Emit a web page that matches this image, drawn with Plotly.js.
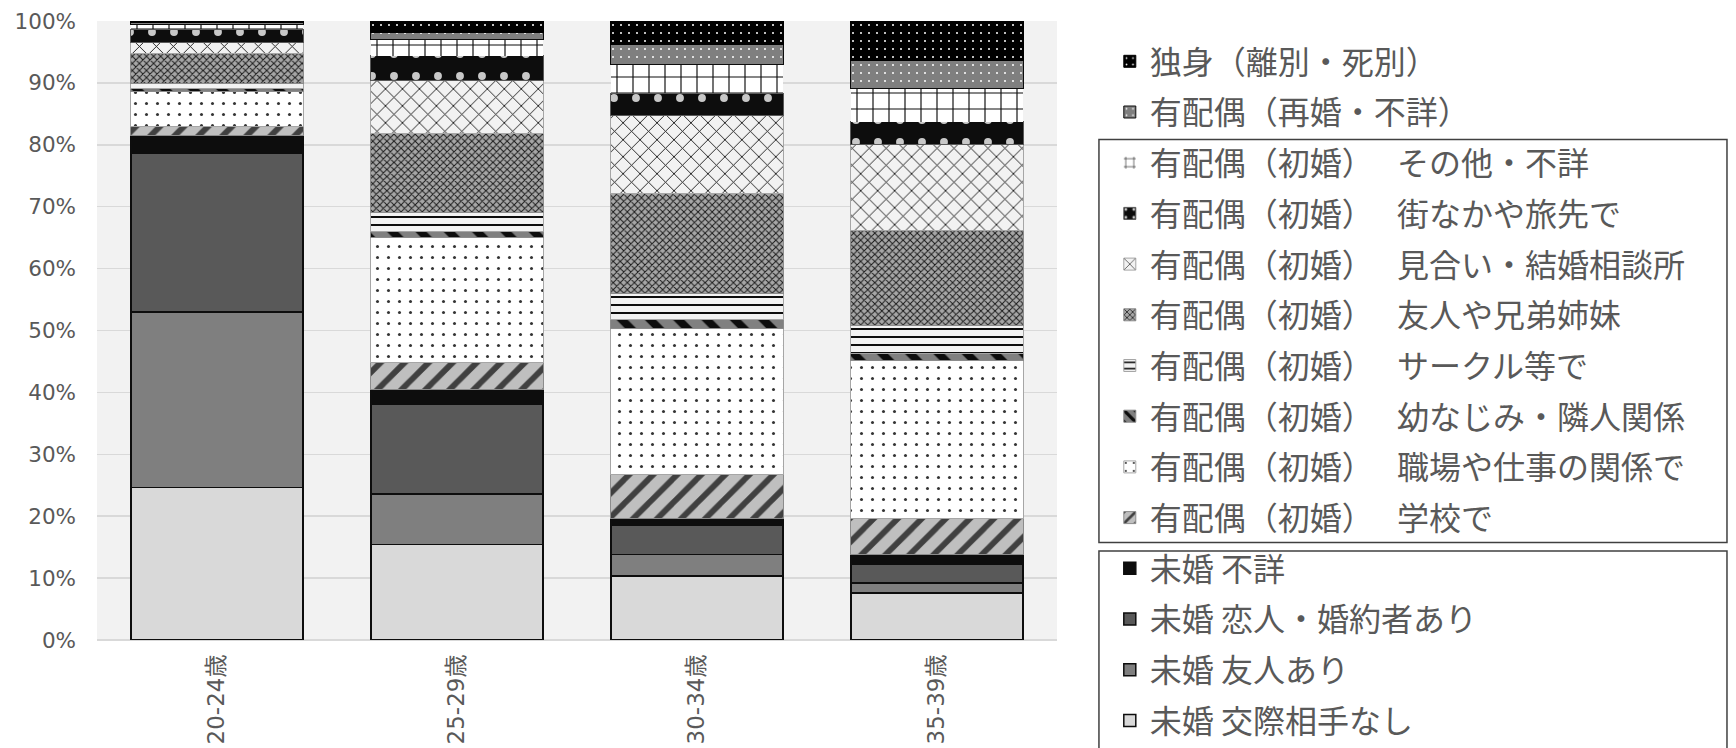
<!DOCTYPE html>
<html>
<head>
<meta charset="utf-8">
<script src="https://cdn.plot.ly/plotly-3.0.1.min.js"></script>
<style>html,body{margin:0;padding:0;background:#fff;}#chart{width:1736px;height:748px;}</style>
</head>
<body>
<div id="chart"></div>
<script>
// ---- data (percent of each age group), bottom to top ----
const categories = ['20-24歳', '25-29歳', '30-34歳', '35-39歳'];

const GAP = '\u00a0\u2002';
const seriesNames = [
  '未婚 交際相手なし',
  '未婚 友人あり',
  '未婚 恋人・婚約者あり',
  '未婚 不詳',
  '有配偶（初婚）' + GAP + '学校で',
  '有配偶（初婚）' + GAP + '職場や仕事の関係で',
  '有配偶（初婚）' + GAP + '幼なじみ・隣人関係',
  '有配偶（初婚）' + GAP + 'サークル等で',
  '有配偶（初婚）' + GAP + '友人や兄弟姉妹',
  '有配偶（初婚）' + GAP + '見合い・結婚相談所',
  '有配偶（初婚）' + GAP + '街なかや旅先で',
  '有配偶（初婚）' + GAP + 'その他・不詳',
  '有配偶（再婚・不詳）',
  '独身（離別・死別）'
];

const mikonNashi     = [24.6, 15.4, 10.3, 7.6];
const mikonYujin     = [28.4, 8.2, 3.5, 1.6];
const mikonKoibito   = [25.6, 14.5, 4.7, 3.0];
const mikonFusho     = [2.9, 2.3, 1.1, 1.6];
const shokonGakko    = [1.5, 4.5, 7.1, 5.8];
const shokonShokuba  = [5.6, 20.2, 23.7, 25.5];
const shokonOsana    = [0.5, 0.9, 1.3, 1.2];
const shokonCircle   = [0.8, 3.0, 4.2, 4.5];
const shokonYujin    = [4.8, 12.9, 16.3, 15.4];
const shokonMiai     = [1.9, 8.5, 12.5, 13.8];
const shokonMachi    = [2.1, 4.0, 3.6, 3.7];
const shokonSonota   = [0.7, 2.6, 4.7, 5.4];
const saikon         = [0.3, 1.1, 3.2, 4.6];
const dokushin       = [0.3, 1.9, 3.8, 6.3];

const seriesValues = [mikonNashi, mikonYujin, mikonKoibito, mikonFusho, shokonGakko,
  shokonShokuba, shokonOsana, shokonCircle, shokonYujin, shokonMiai, shokonMachi,
  shokonSonota, saikon, dokushin];

// ---- styles ----
const styles = [
  {bg:'#d9d9d9', line:'#0d0d0d', lw:1.5},
  {bg:'#7f7f7f', line:'#0d0d0d', lw:1.5},
  {bg:'#595959', line:'#0d0d0d', lw:1.5},
  {bg:'#0d0d0d', line:'#0d0d0d', lw:1.5},
  {bg:'#bfbfbf', line:'#8c8c8c', lw:1, shape:'/', fg:'#404040', size:17, sol:0.35},
  {bg:'#ffffff', line:'#a6a6a6', lw:1, shape:'.', fg:'#333333', size:11, sol:0.06},
  {bg:'#808080', line:'#8c8c8c', lw:1, shape:'\\', fg:'#0d0d0d', size:20, sol:0.4},
  {bg:'#f2f2f2', line:'#a6a6a6', lw:1, shape:'-', fg:'#0d0d0d', size:8, sol:0.25},
  {bg:'#a6a6a6', line:'#8c8c8c', lw:1, shape:'x', fg:'#1a1a1a', size:5, sol:0.35},
  {bg:'#f2f2f2', line:'#a6a6a6', lw:1, shape:'x', fg:'#0d0d0d', size:12, sol:0.14},
  {bg:'#0d0d0d', line:'#595959', lw:1, shape:'.', fg:'#c8c8c8', size:22, sol:0.1},
  {bg:'#ffffff', line:'#ffffff', lw:0, shape:'+', fg:'#0d0d0d', size:16, sol:0.14},
  {bg:'#7f7f7f', line:'#0d0d0d', lw:1, shape:'.', fg:'#ffffff', size:8, sol:0.05},
  {bg:'#000000', line:'#000000', lw:1, shape:'.', fg:'#ffffff', size:8, sol:0.05}
];

const traces = seriesNames.map((name, i) => {
  const s = styles[i];
  const marker = {color: s.bg, line: {color: s.line, width: s.lw}};
  if (s.shape) {
    marker.pattern = {shape: s.shape, bgcolor: s.bg, fgcolor: s.fg, size: s.size, solidity: s.sol, fillmode: 'replace'};
  }
  return {
    type: 'bar',
    name: name,
    x: categories,
    y: seriesValues[i],
    marker: marker,
    legendgroup: 'g' + i,
    legendrank: seriesNames.length - i,
    hoverinfo: 'name+y'
  };
});

const tickFamily = 'DejaVu Sans, Noto Sans CJK JP, sans-serif';

const layout = {
  width: 1736,
  height: 748,
  margin: {l: 97, r: 679, t: 21, b: 108},
  paper_bgcolor: '#ffffff',
  plot_bgcolor: '#f2f2f2',
  barmode: 'stack',
  barnorm: 'percent',
  bargap: 0.283,
  font: {family: tickFamily, color: '#595959'},
  xaxis: {
    tickangle: -90,
    tickfont: {size: 23, color: '#595959', family: tickFamily},
    ticks: '',
    showline: false,
    ticklabelstandoff: 9
  },
  yaxis: {
    range: [0, 100],
    dtick: 10,
    ticksuffix: '%',
    tickfont: {size: 21.5, color: '#595959', family: tickFamily},
    gridcolor: '#d9d9d9',
    gridwidth: 1.5,
    zeroline: true,
    zerolinecolor: '#d9d9d9',
    zerolinewidth: 1.5,
    ticks: '',
    ticklabelstandoff: 20
  },
  legend: {
    x: 1.055,
    xanchor: 'left',
    y: 0.966,
    yanchor: 'top',
    traceorder: 'grouped',
    tracegroupgap: 6.1,
    maxheight: 1000,
    font: {size: 32, color: '#595959', family: 'Noto Sans CJK JP, sans-serif'},
    bgcolor: 'rgba(0,0,0,0)',
    itemwidth: 30
  },
  shapes: [
    {type: 'rect', xref: 'paper', yref: 'paper', x0: 1.0437, x1: 1.6979, y0: 0.1575, y1: 0.8086,
     line: {color: '#404040', width: 1.5}, fillcolor: 'rgba(0,0,0,0)'},
    {type: 'rect', xref: 'paper', yref: 'paper', x0: 1.0437, x1: 1.6979, y0: -0.2, y1: 0.1438,
     line: {color: '#404040', width: 1.5}, fillcolor: 'rgba(0,0,0,0)'}
  ],
  showlegend: true
};

Plotly.newPlot('chart', traces, layout, {displayModeBar: false, staticPlot: true});
</script>
</body>
</html>
